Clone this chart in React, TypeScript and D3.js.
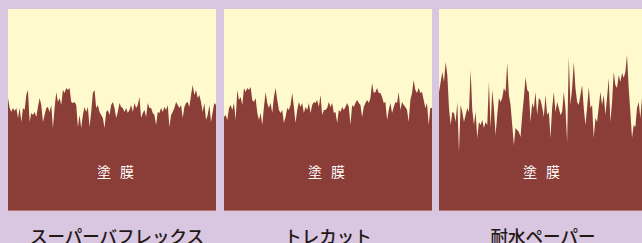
import React from "react";
import { area, scaleLinear, curveLinear } from "d3";

// 研磨材ごとの塗膜表面プロファイル（塗膜厚さ, 等間隔サンプル）
const categories = ["スーパーバフレックス", "トレカット", "耐水ペーパー"];
const filmLabel = "塗 膜";

const superBuffrex = [
  113, 103, 99, 103, 100, 103, 93, 103, 89, 103, 101, 116, 121, 89, 98, 96, 99, 94, 104, 113, 106,
  89, 96, 103, 104, 99, 106, 83, 103, 119, 109, 113, 106, 121, 118, 123, 121, 123, 109, 108, 109,
  106, 84, 96, 83, 96, 104, 99, 104, 84, 99, 118, 121, 103, 106, 99, 96, 93, 83, 99, 101, 96, 106,
  109, 103, 93, 99, 108, 104, 103, 99, 103, 98, 101, 106, 99, 108, 103, 106, 114, 93, 98, 101, 94,
  108, 103, 103, 98, 96, 86, 99, 98, 103, 99, 104, 101, 106, 84, 96, 99, 103, 109, 106, 103, 106,
  93, 104, 108, 109, 104, 116, 126, 116, 121, 113, 116, 109, 99, 108, 91, 96, 106, 89, 99, 108, 106,
];

const torecut = [
  94, 96, 91, 103, 106, 101, 108, 91, 121, 111, 114, 106, 123, 119, 123, 121, 124, 111, 109, 113, 98,
  91, 98, 86, 104, 119, 108, 103, 108, 98, 114, 123, 111, 101, 98, 101, 88, 94, 103, 101, 106, 118,
  104, 88, 101, 109, 104, 108, 98, 104, 101, 108, 98, 106, 109, 108, 111, 104, 116, 96, 101, 101, 103,
  109, 104, 108, 98, 99, 88, 101, 99, 104, 101, 104, 108, 104, 86, 106, 104, 108, 111, 108, 106, 94,
  104, 108, 111, 108, 113, 128, 118, 119, 123, 118, 118, 114, 108, 109, 91, 101, 108, 98, 104, 109,
  108, 119, 101, 109, 106, 104, 101, 89, 111, 118, 131, 121, 118, 123, 118, 119, 111, 103, 108, 86,
  103, 103,
];

const waterproofPaper = [
  119, 129, 139, 129, 149, 136, 103, 86, 99, 98, 89, 109, 59, 106, 99, 89, 96, 103, 99, 141, 101,
  86, 99, 73, 89, 86, 91, 83, 89, 86, 129, 83, 121, 103, 76, 96, 113, 109, 113, 123, 119, 148, 116,
  106, 86, 66, 83, 81, 79, 74, 96, 113, 134, 121, 119, 89, 108, 103, 119, 96, 113, 111,
  104, 94, 116, 96, 99, 73, 103, 119, 99, 109, 103, 96, 99, 119, 103, 69, 154, 106, 123, 149, 123,
  109, 106, 116, 126, 103, 86, 103, 124, 103, 106, 73, 93, 89, 104, 119, 106, 116, 96, 113, 133, 89,
  109, 139, 126, 123, 136, 129, 138, 133, 139, 156, 123, 99, 73, 86, 84, 103, 109, 93, 113,
];

const profiles = [superBuffrex, torecut, waterproofPaper];

const W = 642;
const H = 243;
const panelX = [8, 224, 439];
const panelW = 208;
const panelTop = 9;
const panelBottom = 211;
const labelShift = [5, 0, 0];

const BG = "#d9c6e1";
const SKY = "#fffacd";
const FILM = "#8b3d38";

export default function App() {
  const x = scaleLinear().domain([0, 125]).range([0, panelW]);
  const y = scaleLinear().domain([0, panelBottom - panelTop]).range([panelBottom, panelTop]);
  const film = area<number>()
    .x((_, i) => x(i))
    .y0(panelBottom)
    .y1((d) => y(d))
    .curve(curveLinear);

  return (
    <svg
      width={W}
      height={H}
      style={{ position: "absolute", left: 0, top: 0, display: "block" }}
      fontFamily="'Noto Sans CJK JP', 'Noto Sans', sans-serif"
    >
      <rect width={W} height={H} fill={BG} />
      {profiles.map((p, k) => {
        const x0 = panelX[k];
        const cx = x0 + panelW / 2 + labelShift[k];
        return (
          <g key={k}>
            <clipPath id={`clip${k}`}>
              <rect x={x0} y={panelTop} width={panelW} height={panelBottom - panelTop} />
            </clipPath>
            <g clipPath={`url(#clip${k})`}>
              <rect x={x0} y={panelTop} width={panelW} height={panelBottom - panelTop} fill={SKY} />
              <path transform={`translate(${x0},0)`} d={film(p) ?? ""} fill={FILM} />
              <line x1={x0} x2={x0 + panelW} y1={panelBottom - 0.5} y2={panelBottom - 0.5} stroke="#b8776d" />
            </g>
            <text x={cx} y={177} textAnchor="middle" fill="#ffffff" fontSize={14} letterSpacing={3}>
              {filmLabel}
            </text>
            <text x={cx} y={243} textAnchor="middle" fill="#231815" fontSize={17.5} fontWeight={500}>
              {categories[k]}
            </text>
          </g>
        );
      })}
    </svg>
  );
}
